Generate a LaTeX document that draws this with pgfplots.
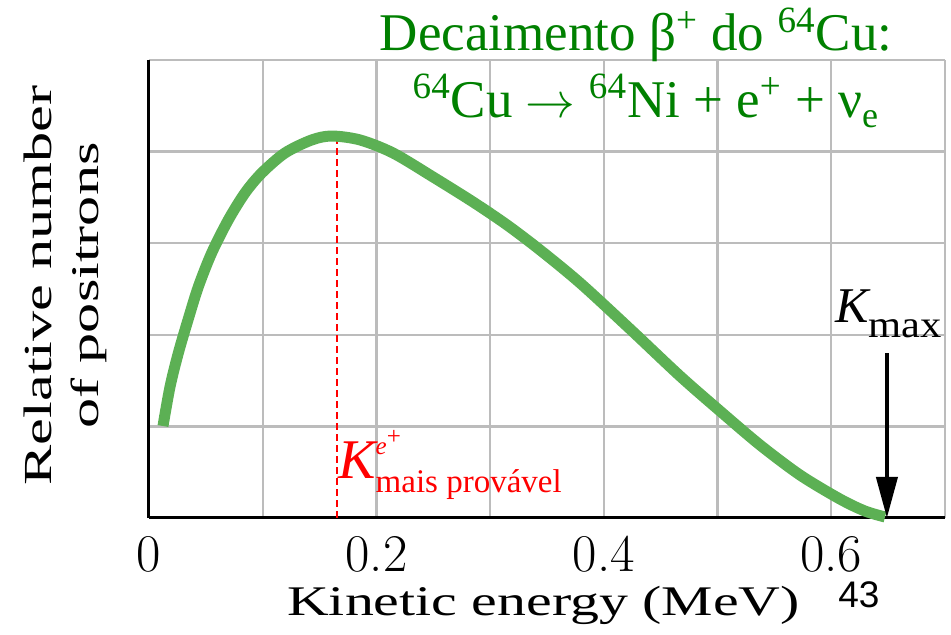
\documentclass[border=0pt]{standalone}
\usepackage{fontspec}
\usepackage{pgfplots}
\usepackage{pgfplotstable}
\pgfplotsset{compat=1.18}
\usetikzlibrary{arrows.meta}
\newfontfamily\timesfont{Liberation Serif}
\newfontfamily\labxfont[FakeStretch=1.37]{Liberation Serif}
\newfontfamily\sansfont{Liberation Sans}
\definecolor{curvegreen}{RGB}{92,176,84}
\definecolor{titlegreen}{RGB}{0,128,0}
\definecolor{gridgray}{RGB}{188,188,188}

\pgfplotstableread{
E N
0.0123 1.004
0.0185 1.433
0.0258 1.801
0.0346 2.175
0.0434 2.525
0.0551 2.893
0.0697 3.253
0.0844 3.548
0.0991 3.766
0.1196 3.985
0.1431 4.127
0.1607 4.170
0.1856 4.127
0.2146 3.985
0.2498 3.723
0.2850 3.450
0.3149 3.199
0.3439 2.926
0.3791 2.566
0.4231 2.063
0.4670 1.550
0.5022 1.168
0.5374 0.797
0.5726 0.469
0.6077 0.207
0.6297 0.076
0.6473 0.011
}\spectrum

\begin{document}
\begin{tikzpicture}
\useasboundingbox (0,0) rectangle (475.5pt,317.5pt);
\begin{axis}[
  at={(74.5pt,58.5pt)}, anchor=south west,
  scale only axis, width=397.95pt, height=229pt,
  xmin=0, xmax=0.7, ymin=0, ymax=5,
  clip=false,
  xtick={0,0.1,0.2,0.3,0.4,0.5,0.6,0.7},
  xticklabels={0,{},0.2,{},0.4,{},0.6,{}},
  ytick={0,1,2,3,4,5},
  yticklabels={},
  grid=major,
  major grid style={gridgray, line width=1.2pt},
  major tick length=0pt,
  axis x line*=bottom, axis y line*=left,
  axis line style={black, line width=1.5pt, -},
  xticklabel style={font=\fontsize{26.5}{26.5}\selectfont, anchor=base, inner sep=0pt, yshift=-27pt},
  xlabel={Kinetic energy (MeV)},
  xlabel style={at={(axis description cs:0.4957,-0.2118)}, anchor=base, inner sep=0pt,
    font=\labxfont\fontsize{21.1}{21.1}\selectfont},
]
\addplot[red, line width=0.8pt, dash pattern=on 3.5pt off 2pt] coordinates {(0.1652,0) (0.1652,4.12)};
\addplot[curvegreen, line width=5.5pt, smooth, line cap=butt] table[x=E, y=N] {\spectrum};

\draw[black, line width=2pt, -{Triangle[width=10.5pt,length=20.5pt]}] (axis cs:0.649,1.80) -- (axis cs:0.649,0);

\node[rotate=90, anchor=north, inner sep=0pt, align=center,
      font=\timesfont\fontsize{20.4}{23.5}\selectfont]
  at (axis description cs:-0.1583,0.508)
  {\resizebox{200pt}{13.8pt}{Relative number}\\\resizebox{143pt}{13.8pt}{of positrons}};

\node[anchor=base west, inner sep=0pt, text=black] at (axis cs:0.6033,2.129)
  {\timesfont\fontsize{25}{25}\selectfont\itshape K\upshape\fontsize{19}{19}\selectfont\raisebox{-7.5pt}{\scalebox{1.12}[1]{max}}};

\node[anchor=base west, inner sep=0pt, text=red] at (axis cs:0.1662,0.426)
  {\timesfont\fontsize{28}{28}\selectfont\itshape K\upshape\rlap{\raisebox{12pt}{\fontsize{12.5}{12.5}\selectfont\itshape e\upshape\raisebox{5pt}{+}}}\raisebox{-7pt}{\fontsize{16.5}{16.5}\selectfont mais provável}};

\node[anchor=base, inner sep=0pt, text=titlegreen, font=\timesfont\fontsize{26.5}{26.5}\selectfont]
  at (axis description cs:0.612,1.0197) {Decaimento β\textsuperscript{+} do \textsuperscript{64}Cu:};
\node[anchor=base, inner sep=0pt, text=titlegreen, font=\timesfont\fontsize{26.5}{26.5}\selectfont]
  at (axis description cs:0.6238,0.8755) {\textsuperscript{64}Cu $\rightarrow$ \textsuperscript{64}Ni + e\textsuperscript{+} + ν\raisebox{-5pt}{\fontsize{18}{18}\selectfont e}};

\node[anchor=base, inner sep=0pt, font=\sansfont\fontsize{18.5}{18.5}\selectfont]
  at (axis description cs:0.892,-0.1965) {43};
\end{axis}
\end{tikzpicture}
\end{document}
